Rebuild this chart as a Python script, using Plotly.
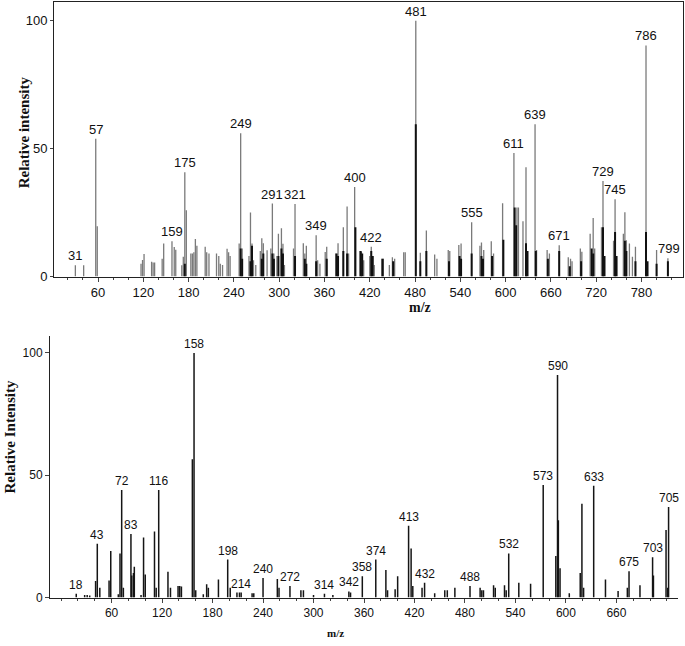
import plotly.graph_objects as go

# ---------------- Top spectrum ----------------
top_gray_mz = [30, 41, 57, 59, 117, 119, 121, 131, 133, 135, 145, 147, 158, 161, 163, 171, 173, 175, 177,
               183, 185, 187, 189, 191, 202, 204, 207, 217, 220, 222, 225, 231, 233, 235, 247, 249, 251,
               260, 262, 264, 266, 269, 275, 277, 279, 284, 289, 291, 293, 297, 299, 303, 305, 307, 319,
               321, 332, 334, 336, 349, 351, 354, 361, 363, 375, 378, 385, 390, 392, 400, 407, 409, 412,
               420, 422, 426, 436, 438, 446, 450, 453, 465, 467, 481, 487, 495, 506, 509, 524, 526, 538,
               541, 555, 566, 568, 571, 581, 584, 596, 611, 615, 617, 623, 627, 639, 641, 655, 658, 671,
               683, 686, 688, 699, 701, 712, 716, 718, 727, 729, 743, 745, 756, 758, 760, 764, 768, 772,
               786, 800, 815]
top_gray_int = [4.4, 4.4, 53.8, 19.7, 5, 6.5, 8.8, 5.8, 5.5, 5.5, 7, 12.9, 13.8, 11.5, 10.5, 4.4, 7.7, 40.8, 25.9,
                9, 9, 9.5, 14.7, 12, 11.6, 9.5, 9, 9, 8, 5, 4.5, 10.9, 9.5, 8, 12.9, 56, 11,
                8, 25, 12.9, 6.4, 4.5, 10, 15, 13, 10.3, 11, 28.5, 9, 8, 16.7, 18.9, 12.8, 4.5, 11,
                28.3, 13, 9, 12, 16.1, 6.4, 5, 9.6, 11.6, 9, 13, 19.3, 27.4, 9, 35, 10, 9.6, 6.4,
                8, 11.6, 4.5, 7, 7, 4.5, 7.5, 7, 9.5, 9.5, 100, 9.3, 18, 8.6, 7, 10.4, 10, 12.3,
                12.9, 21.2, 12, 13.3, 10.4, 13.8, 9, 28.6, 48.3, 27, 27, 21.6, 42.7, 59.5, 10.4, 10.4, 9, 12.2,
                7.5, 7, 6, 11, 9.7, 16.7, 22.9, 11, 19.3, 37.3, 14, 30.2, 16.7, 25.1, 14.2, 12.9, 7.7, 11.6,
                90.3, 10.4, 7.1]

top_black_mz = [175, 249, 251, 262, 264, 277, 279, 291, 293, 299, 303, 305, 321, 334, 336, 349, 363, 376, 378,
                385, 390, 401, 408, 410, 422, 424, 437, 451, 481, 487, 495, 525, 539, 541, 555, 568, 570,
                582, 597, 612, 614, 627, 629, 640, 656, 671, 685, 700, 714, 716, 729, 731, 745, 747, 758,
                760, 772, 786, 788, 800, 815]
top_black_int = [5, 11, 7, 6, 12, 7, 9, 9, 7, 8, 11, 9, 8, 7, 5, 6, 7, 9, 8,
                 10, 9, 19.3, 10, 9, 10, 8, 7, 6, 59.5, 6, 10, 6, 8, 7, 9, 8, 7,
                 8, 14.4, 27, 20, 13, 10, 10, 7, 10, 4, 6, 11, 9, 19.3, 8, 17.4, 8, 14,
                 10, 6, 17.4, 6, 5, 6]

top_label_text = ["31", "57", "159", "175", "249", "291", "321", "349", "400", "422", "481", "555",
                  "611", "639", "671", "729", "745", "786", "799"]
top_label_mz = [30, 57, 158, 175, 249, 291, 321, 349, 400, 422, 481, 555,
                611, 639, 671, 729, 745, 786, 817]
top_label_int = [4.4, 53.8, 13.8, 40.8, 56, 28.5, 28.3, 16.1, 35, 11.6, 100, 21.2,
                 48.3, 59.5, 12.2, 37.3, 30.2, 90.3, 7.1]

top_ticks = [60, 120, 180, 240, 300, 360, 420, 480, 540, 600, 660, 720, 780]

# ---------------- Bottom spectrum ----------------
bot_mz = [18, 28, 31, 34, 41, 43, 46, 57, 59, 68, 70, 72, 74, 83, 84, 86, 87, 95, 98, 100, 111, 113, 116,
          127, 130, 139, 141, 143, 156, 158, 160, 169, 173, 175, 187, 198, 201, 209, 212, 214, 227, 229,
          240, 257, 259, 272, 285, 288, 300, 313, 323, 342, 344, 358, 374, 386, 388, 397, 400, 413, 416,
          418, 429, 432, 444, 456, 459, 468, 486, 498, 500, 502, 514, 516, 527, 529, 532, 544, 558, 573,
          588, 590, 591, 593, 604, 617, 619, 621, 633, 647, 662, 673, 675, 688, 703, 704, 719, 721, 722]
bot_int = [1.5, 1, 1, 0.8, 6.7, 22, 4, 7, 19, 1.3, 18, 44, 4, 26, 9, 10, 12.6, 1, 24.5, 9.4, 27, 4, 44,
           10.5, 4, 4.7, 4.7, 4.5, 56.5, 100, 3, 1.3, 5.4, 4, 7.4, 15.5, 4, 2, 2, 2, 1.7, 1.7,
           8, 7.6, 4, 4.7, 3, 3, 1, 1.5, 1, 2.5, 2, 8.7, 15.5, 11.2, 3, 3.4, 8.7, 29.3, 20,
           4.7, 4, 6, 1.7, 3, 3, 4, 4.7, 4, 3, 3, 5, 4, 5, 3, 18, 6, 5.6, 46,
           17, 91, 31.6, 12, 1.7, 10, 38.3, 4, 45.7, 7.4, 2.7, 4, 10.7, 5, 16.5, 9, 27.6, 4, 37]

bot_label_text = ["18", "43", "72", "83", "116", "158", "198", "214", "240", "272", "314", "342", "358",
                  "374", "413", "432", "488", "532", "573", "590", "633", "675", "703", "705"]
bot_label_mz = [18, 43, 72, 83, 116, 158, 198, 214, 240, 272, 313, 342, 358,
                374, 413, 432, 486, 532, 573, 590, 633, 675, 703, 722]
bot_label_int = [1.5, 22, 44, 26, 44, 100, 15.5, 2, 8, 4.7, 1.5, 2.5, 8.7,
                 15.5, 29.3, 6, 4.7, 18, 46, 91, 45.7, 10.7, 16.5, 37]

bot_ticks = [60, 120, 180, 240, 300, 360, 420, 480, 540, 600, 660]


def sticks(mz, inten):
    xs, ys = [], []
    for m, h in zip(mz, inten):
        xs += [m, m, None]
        ys += [0, h, None]
    return xs, ys


fig = go.Figure()

gx, gy = sticks(top_gray_mz, top_gray_int)
fig.add_trace(go.Scatter(x=gx, y=gy, mode="lines", line=dict(color="#7a7a7a", width=1.3),
                         xaxis="x", yaxis="y", showlegend=False, hoverinfo="skip"))
bx, by = sticks(top_black_mz, top_black_int)
fig.add_trace(go.Scatter(x=bx, y=by, mode="lines", line=dict(color="#111111", width=2),
                         xaxis="x", yaxis="y", showlegend=False, hoverinfo="skip"))
cx, cy = sticks(bot_mz, bot_int)
fig.add_trace(go.Scatter(x=cx, y=cy, mode="lines", line=dict(color="#151515", width=1.5),
                         xaxis="x2", yaxis="y2", showlegend=False, hoverinfo="skip"))

annotations = []
for t, m, h in zip(top_label_text, top_label_mz, top_label_int):
    annotations.append(dict(x=m, y=h, xref="x", yref="y", text=t, showarrow=False,
                            yanchor="bottom", yshift=0, font=dict(family="Arial", size=13, color="#111")))
for t, m, h in zip(bot_label_text, bot_label_mz, bot_label_int):
    annotations.append(dict(x=m, y=h, xref="x2", yref="y2", text=t, showarrow=False,
                            yanchor="bottom", yshift=0, font=dict(family="Arial", size=12, color="#111")))

W, H = 685, 646
serif = "Liberation Serif, Times New Roman, serif"
annotations += [
    dict(x=420 / W, y=1 - 311 / H, xref="paper", yref="paper", text="<b>m/z</b>", showarrow=False,
         xanchor="center", yanchor="middle", font=dict(family=serif, size=14, color="#111")),
    dict(x=24 / W, y=1 - 134 / H, xref="paper", yref="paper", text="<b>Relative intensity</b>",
         showarrow=False, textangle=-90, xanchor="center", yanchor="middle",
         font=dict(family=serif, size=15, color="#111")),
    dict(x=335 / W, y=1 - 641 / H, xref="paper", yref="paper", text="<b>m/z</b>", showarrow=False,
         xanchor="center", yanchor="middle", font=dict(family=serif, size=11, color="#111")),
    dict(x=10 / W, y=1 - 443 / H, xref="paper", yref="paper", text="<b>Relative Intensity</b>",
         showarrow=False, textangle=-90, xanchor="center", yanchor="middle",
         font=dict(family=serif, size=15, color="#111")),
]

tickfont = dict(family="Arial", size=13, color="#111")
fig.update_layout(
    width=W, height=H, margin=dict(l=0, r=0, t=0, b=0),
    paper_bgcolor="white", plot_bgcolor="white",
    annotations=annotations,
    xaxis=dict(domain=[54 / W, 683 / W], range=[1.7, 835], anchor="y",
               tickmode="array", tickvals=top_ticks, ticks="outside", ticklen=4,
               showline=True, linecolor="#222", linewidth=1, mirror=True,
               showgrid=False, zeroline=False, tickfont=tickfont,
               minor=dict(dtick=20, ticks="outside", ticklen=2, tickcolor="#444")),
    yaxis=dict(domain=[(H - 280) / H, (H - 2) / H], range=[0, 107.3], anchor="x",
               tickmode="array", tickvals=[0, 50, 100], ticks="outside", ticklen=3,
               showline=True, linecolor="#222", linewidth=1, mirror=True,
               showgrid=False, zeroline=False, tickfont=tickfont),
    xaxis2=dict(domain=[50 / W, 678 / W], range=[-13.2, 733.2], anchor="y2",
                tickmode="array", tickvals=bot_ticks, ticks="outside", ticklen=4,
                showline=True, linecolor="#222", linewidth=1,
                showgrid=False, zeroline=False, tickfont=dict(family="Arial", size=12, color="#111"),
                minor=dict(dtick=20, ticks="outside", ticklen=2, tickcolor="#444")),
    yaxis2=dict(domain=[(H - 605) / H, (H - 340) / H], range=[0, 107], anchor="x2",
                tickmode="array", tickvals=[0, 50, 100], ticks="outside", ticklen=4,
                showline=True, linecolor="#222", linewidth=1,
                showgrid=False, zeroline=False, tickfont=dict(family="Arial", size=12, color="#111")),
)

fig.write_html("out.html")
